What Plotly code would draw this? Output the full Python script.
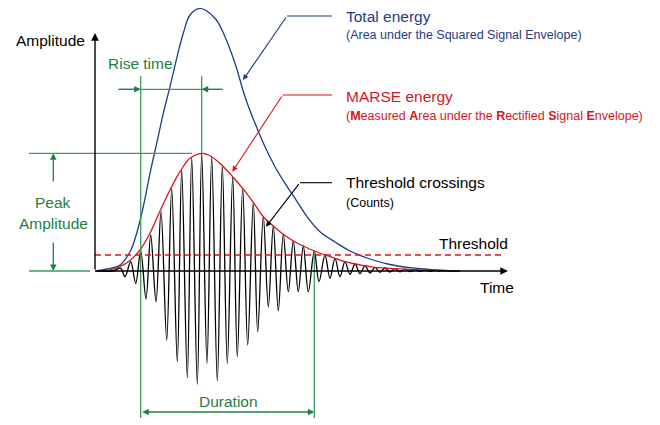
import plotly.graph_objects as go

# Acoustic-emission hit: time axis t, amplitude a (arbitrary units)
# Positive peaks of the burst signal
peak_t = [25.7, 35.7, 45.7, 55.7, 66, 76.7, 86.7, 96.7, 106.7, 116.7, 127.3, 137.7,
          147.7, 158.3, 168.3, 178.3, 188.3, 198.3, 208.3, 219.3, 230, 240, 250, 260,
          270, 280, 290, 300, 310, 320, 330, 340, 350]
peak_a = [2.7, 9.3, 20, 36, 59.3, 82.7, 101, 113.3, 117.7, 114.3, 105.3, 94.3,
          82.7, 68.7, 54.3, 45, 36.7, 30, 25, 20, 16, 12.7, 9.3, 7,
          5.3, 3.7, 3, 2.3, 1.7, 1.3, 1.0, 0.7, 0.4]
# Negative peaks of the burst signal
trough_t = [30, 40.7, 51, 61, 71.7, 82.3, 92.3, 102.3, 112, 122.3, 132.3, 142.3,
            152.7, 162.7, 173.3, 183.3, 193.3, 203.3, 213.3, 224, 235, 245, 255, 265,
            275, 285, 295, 305, 315, 325, 335, 345]
trough_a = [-5.7, -12.3, -28, -30.7, -69, -90.7, -106.7, -113.3, -92.3, -110, -92.3, -85.7,
            -74, -60.7, -36, -39.7, -20.7, -20.7, -20.7, -10.7, -7.3, -5.7, -3.3, -2.7,
            -2, -1.3, -1, -0.8, -0.6, -0.4, -0.3, -0.2]

# Rectified signal envelope (MARSE)
env_t = [0, 15, 25, 35, 45, 55, 65, 75, 85, 95, 106.7, 116.7, 127.3, 137.7, 147.7, 158.3,
         168.3, 178.3, 188.3, 198.3, 208.3, 219.3, 230, 240, 250, 260, 270, 280, 300, 320, 340, 363]
env_a = [0, 1, 4.3, 10.5, 21, 37.7, 60, 81, 99.3, 112.7, 117.7, 114.3, 105.3, 94.3, 82.7, 68.7,
         54.3, 45, 36.7, 30, 25, 20, 16, 12.7, 9.3, 7, 5.3, 3.7, 2.3, 1.3, 0.7, 0]

# Squared signal envelope (total energy)
energy_t = [0, 12, 25, 35, 41.7, 48.3, 55, 61.7, 68.3, 75, 81.7, 88.3, 95, 105, 120, 130,
            140, 150, 160, 170, 180, 190, 200, 213.3, 225, 240, 255, 275, 295, 315, 340, 365]
energy_a = [0, 2, 6, 19.3, 37.7, 64.3, 97.7, 127.7, 157.7, 184.3, 212.7, 237.7, 256, 262.7,
            252.7, 234.3, 207.7, 174.3, 147.7, 124.3, 104.3, 87.7, 72.7, 52.7, 39.3, 29,
            20, 12, 6.5, 3.3, 1.2, 0]

threshold = 16

BLACK = "#000000"
RED = "#d7141e"
BLUE = "#1f3c88"
GREEN = "#1e8043"
GREEN_LINE = "#3c9a63"
FONT = "Liberation Sans, Arial, sans-serif"

# Burst signal: start flat, then alternate peaks and troughs in time order
ext = sorted(list(zip(peak_t, peak_a)) + list(zip(trough_t, trough_a)))
sig_t = [0, 18] + [p[0] for p in ext] + [356, 365]
sig_a = [0, 0] + [p[1] for p in ext] + [0, 0]

# Derived timing features
above = [(t, a) for t, a in zip(peak_t, peak_a) if a > threshold]
t_first = above[0][0]
t_last, a_last = above[-1]
i_max = max(range(len(peak_a)), key=lambda i: peak_a[i])
t_peak, a_peak = peak_t[i_max], peak_a[i_max]

fig = go.Figure()
fig.add_trace(go.Scatter(x=sig_t, y=sig_a, mode="lines",
                         line=dict(color=BLACK, width=1.3, shape="spline", smoothing=1.0),
                         hoverinfo="skip"))
fig.add_trace(go.Scatter(x=env_t, y=env_a, mode="lines",
                         line=dict(color=RED, width=1.3, shape="spline", smoothing=1.0),
                         hoverinfo="skip"))
fig.add_trace(go.Scatter(x=energy_t, y=energy_a, mode="lines",
                         line=dict(color=BLUE, width=1.3, shape="spline", smoothing=1.0),
                         hoverinfo="skip"))

shapes = []


def seg(x0, y0, x1, y1, color, width=1.3, dash="solid"):
    shapes.append(dict(type="line", x0=x0, y0=y0, x1=x1, y1=y1, xref="x", yref="y",
                       line=dict(color=color, width=width, dash=dash), layer="above"))


# threshold level
seg(0, threshold, 409, threshold, RED, 1.5, "6px,4px")

# rise time / duration guides
seg(t_first, 195, t_first, -147, GREEN_LINE)
seg(t_peak, 195, t_peak, a_peak, GREEN_LINE)
seg(t_last, a_last, t_last, -147, GREEN_LINE)
seg(23, 181.7, 128, 181.7, GREEN_LINE)
# peak amplitude guides
seg(-66, a_peak, 97, a_peak, GREEN_LINE)
seg(-66, 0, -5, 0, GREEN_LINE)

# callout leader lines
seg(192, 255, 237, 255, BLUE, 1.1)
seg(187.7, 176, 237, 176, RED, 1.1)
seg(205, 88.3, 237, 88.3, BLACK, 1.1)

annotations = []


def arrow(x, y, ax, ay, color, width=1.3, size=1.0, side="end"):
    annotations.append(dict(x=x, y=y, ax=ax, ay=ay, xref="x", yref="y", axref="x", ayref="y",
                            text="", showarrow=True, arrowhead=2, arrowsize=size,
                            arrowwidth=width, arrowcolor=color, arrowside=side,
                            startarrowhead=2, startarrowsize=size, standoff=0, startstandoff=0))


def label(x, y, text, color, size=15.5, xanchor="left"):
    annotations.append(dict(x=x, y=y, xref="x", yref="y", text=text, showarrow=False,
                            xanchor=xanchor, yanchor="middle",
                            font=dict(family=FONT, size=size, color=color)))


# axes
arrow(0, 238, 0, 0, BLACK, 1.4, 1.1)
arrow(413, 0, 0, 0, BLACK, 1.4, 1.1)
label(-81, 230.3, "Amplitude", BLACK)
label(383.3, -16.3, "Time", BLACK)
label(341.7, 27.7, "Threshold", BLACK)

# rise time
arrow(t_first, 181.7, 23, 181.7, GREEN, 1.3, 1.0)
arrow(t_peak, 181.7, 128, 181.7, GREEN, 1.3, 1.0)
label(11, 207.7, "Rise time", GREEN)

# duration
arrow(t_last, -141, t_first, -141, GREEN, 1.3, 1.0, "end+start")
label(133, -130, "Duration", GREEN, xanchor="center")

# peak amplitude
arrow(-41.7, a_peak, -41.7, 88, GREEN, 1.3, 1.0)
arrow(-41.7, 0, -41.7, 30, GREEN, 1.3, 1.0)
label(-41.7, 69, "Peak", GREEN, xanchor="center")
label(-41.7, 47.3, "Amplitude", GREEN, xanchor="center")

# callouts
arrow(148, 191, 192, 255, BLUE, 1.1, 1.0)
label(249, 255, "Total energy", BLUE)
label(249, 236, "(Area under the Squared Signal Envelope)", BLUE, 12.5)

arrow(137.3, 99.3, 187.7, 176, RED, 1.1, 1.0)
label(249, 174.3, "MARSE energy", RED)
label(249, 155,
      "(<b>M</b>easured <b>A</b>rea under the <b>R</b>ectified "
      "<b>S</b>ignal <b>E</b>nvelope)", RED, 12.5)

arrow(171, 44.3, 205, 88.3, BLACK, 1.1, 1.0)
label(249, 88.3, "Threshold crossings", BLACK)
label(249, 68.3, "(Counts)", BLACK, 12.5)

fig.update_layout(
    width=660, height=425,
    margin=dict(l=0, r=0, t=0, b=0),
    paper_bgcolor="white", plot_bgcolor="white",
    showlegend=False,
    xaxis=dict(range=[-95, 565], visible=False, fixedrange=True),
    yaxis=dict(range=[-154, 271], visible=False, fixedrange=True),
    shapes=shapes, annotations=annotations,
)

fig.write_html("out.html")
